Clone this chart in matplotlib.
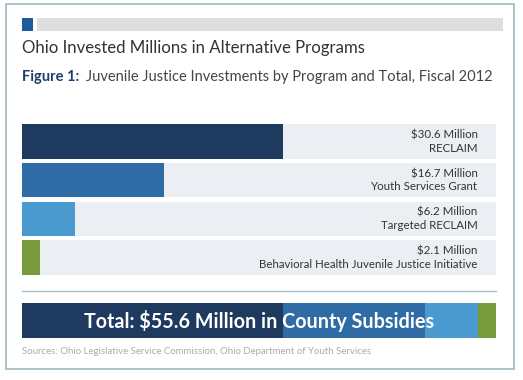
import matplotlib.pyplot as plt
from matplotlib.patches import Rectangle

plt.rcParams['font.family'] = ['Lato', 'DejaVu Sans']

# data
programs = ['RECLAIM', 'Youth Services Grant', 'Targeted RECLAIM',
            'Behavioral Health Juvenile Justice Initiative']
amounts = [30.6, 16.7, 6.2, 2.1]
amount_labels = ['$30.6 Million', '$16.7 Million', '$6.2 Million', '$2.1 Million']
total = 55.6
colors = ['#1F3A5F', '#2F6CA5', '#4A9ACF', '#789A3C']

W, H = 523, 380
fig = plt.figure(figsize=(W / 100, H / 100), dpi=100)
fig.patch.set_facecolor('white')


def fx(px):
    return px / W


def fy(py):
    return 1 - py / H


# outer border
fig.add_artist(Rectangle((fx(6), fy(369)), fx(508), 365 / H, transform=fig.transFigure,
                         fill=False, edgecolor='#A9BDC5', linewidth=1.3))
# header strip
fig.add_artist(Rectangle((fx(22), fy(31)), fx(11), 13 / H, transform=fig.transFigure,
                         color='#1E5A9C', linewidth=0))
fig.add_artist(Rectangle((fx(37), fy(31)), fx(466), 13 / H, transform=fig.transFigure,
                         color='#DCDEE0', linewidth=0))

fig.text(fx(22), fy(48), 'Ohio Invested Millions in Alternative Programs',
         fontsize=12.1, color='#333333', va='center', ha='left')
fig.text(fx(22), fy(77), 'Figure 1:', fontsize=10.5, color='#1E3F6B',
         fontweight='bold', va='center', ha='left')
fig.text(fx(86), fy(77), 'Juvenile Justice Investments by Program and Total, Fiscal 2012',
         fontsize=10.5, color='#444444', va='center', ha='left')

# program bars
ax = fig.add_axes([fx(22), fy(277), fx(474), 155 / H])
ypos = list(range(len(programs)))
ax.barh(ypos, [total] * len(programs), height=0.89, color='#EBEEF3', linewidth=0)
ax.barh(ypos, amounts, height=0.89, color=colors, linewidth=0)
for y, lab, name in zip(ypos, amount_labels, programs):
    ax.text(total * 0.961, y, lab + '\n' + name, ha='right', va='center',
            fontsize=8.3, color='#333333', linespacing=1.25)
ax.set_xlim(0, total)
ax.set_ylim(len(programs) - 0.5, -0.5)
ax.axis('off')

# separator
fig.add_artist(plt.Line2D([fx(22), fx(496)], [fy(291), fy(291)], transform=fig.transFigure,
                          color='#A9BDC5', linewidth=1))

# total stacked bar
ax2 = fig.add_axes([fx(22), fy(338), fx(474), 35 / H])
left = 0
for v, c in zip(amounts, colors):
    ax2.barh(0, v, left=left, height=1, color=c, linewidth=0)
    left += v
ax2.set_xlim(0, total)
ax2.set_ylim(-0.5, 0.5)
ax2.axis('off')
ax2.text(total * 0.5, 0, 'Total: $55.6 Million in County Subsidies', ha='center', va='center',
         fontsize=14.2, fontweight='bold', color='white')

fig.text(fx(22), fy(351), 'Sources: Ohio Legislative Service Commission, Ohio Department of Youth Services',
         fontsize=6.9, color='#AAAAAA', va='center', ha='left')

fig.savefig('out.png', dpi=100)
